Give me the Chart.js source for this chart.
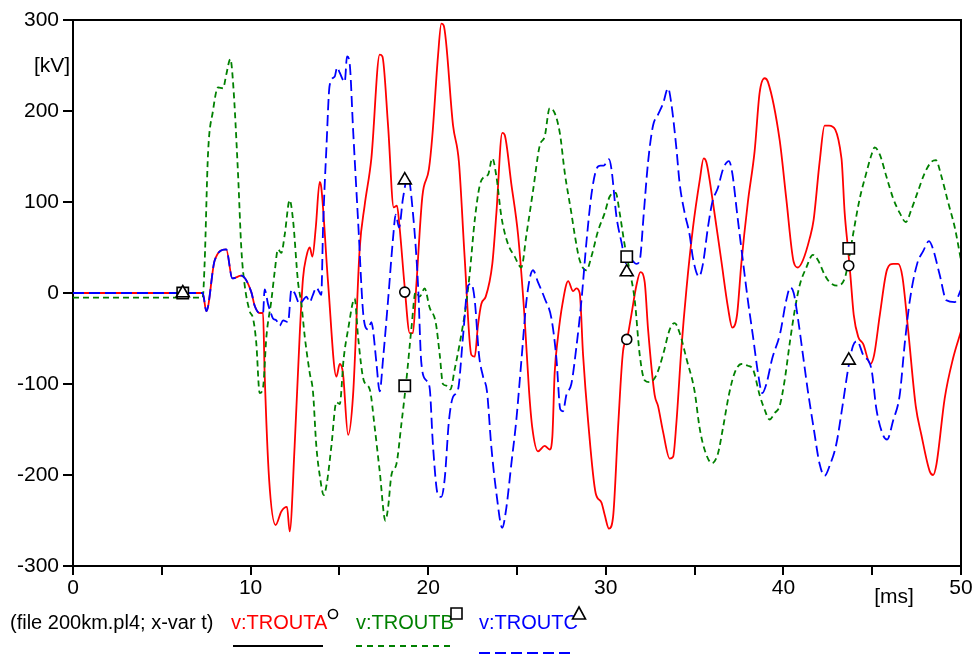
<!DOCTYPE html>
<html>
<head>
<meta charset="utf-8">
<script src="https://cdn.jsdelivr.net/npm/chart.js@4"></script>
<style>
  html,body{margin:0;padding:0;background:#fff;}
  #wrap{position:relative;width:978px;height:655px;}
</style>
</head>
<body>
<div id="wrap"><canvas id="c"></canvas></div>
<script>
// [t ms, kV]
const TROUTA = [[0,0],[7.3,0],[7.51,-20],[7.98,36],[8.63,48],[8.97,16],[9.48,19],[10.04,1],[10.23,-14],[10.51,-22],[10.7,-22],
  [10.79,-88],[11.04,-204],[11.41,-255],[11.73,-240],[12.05,-235],[12.2,-262],[12.48,-168],[12.76,-48],[12.95,16],[13.14,40],
  [13.33,50],[13.48,40],[13.67,72],[13.89,122],[13.98,116],[14.36,12],[14.83,-92],[15.02,-78],[15.2,-88],[15.49,-156],[15.77,-112],
  [16.14,48],[16.42,96],[16.8,148],[17.27,262],[17.42,260],[17.74,184],[18.06,94],[18.24,96],[18.39,72],[18.67,8],[18.96,-44],
  [19.14,-44],[19.33,8],[19.67,106],[20.04,136],[20.23,172],[20.55,260],[20.74,296],[20.87,294],[21.4,184],[21.73,144],[22.05,40],
  [22.43,-68],[22.62,-70],[22.8,-36],[22.99,-12],[23.24,-4],[23.61,32],[23.84,88],[24.17,176],[24.3,174],[24.68,120],[25.06,64],
  [25.43,-28],[25.68,-108],[25.86,-148],[26.18,-174],[26.56,-168],[26.84,-172],[26.99,-158],[27.12,-88],[27.31,-48],[27.56,-12],
  [27.88,13],[28.16,2],[28.34,5],[28.53,0],[28.72,-68],[29.0,-140],[29.43,-220],[29.75,-230],[29.94,-244],[30.18,-259],[30.41,-246],
  [30.69,-148],[30.97,-64],[31.2,-50],[31.44,-24],[31.72,8],[31.95,23],[32.19,12],[32.38,-40],[32.75,-112],[32.94,-124],[33.22,-152],
  [33.6,-182],[33.79,-180],[33.97,-144],[34.26,-60],[34.54,4],[34.91,72],[35.29,124],[35.51,148],[35.66,144],[36.03,100],[36.5,36],
  [36.88,-16],[37.12,-38],[37.39,-24],[37.63,32],[38.0,100],[38.38,156],[38.66,220],[38.94,236],[39.13,232],[39.79,168],[40.16,104],
  [40.58,34],[40.82,28],[41.1,36],[41.48,60],[41.7,80],[42.04,144],[42.32,184],[42.57,184],[43.27,148],[43.45,88],[43.64,48],
  [43.77,20],[43.96,-24],[44.21,-48],[44.49,-56],[44.9,-78],[45.11,-68],[45.43,-24],[45.84,26],[46.18,32],[46.46,32],[46.7,18],
  [47.02,-40],[47.45,-124],[47.77,-156],[48.24,-196],[48.43,-200],[48.62,-188],[49.08,-116],[49.55,-72],[50,-42]];

const TROUTB = [[0,-5],[7.3,-5],[7.41,32],[7.6,152],[7.88,200],[8.17,226],[8.45,225],[8.63,240],[8.86,257],[9.01,232],[9.29,132],
  [9.48,48],[9.67,8],[9.95,-20],[10.14,-28],[10.32,-55],[10.51,-110],[10.7,-104],[10.89,-48],[11.17,-8],[11.36,24],[11.54,48],
  [11.73,44],[11.92,64],[12.2,102],[12.39,80],[12.67,12],[12.86,-12],[13.05,-48],[13.33,-88],[13.51,-108],[13.7,-168],[13.89,-200],
  [14.12,-222],[14.3,-208],[14.55,-168],[14.83,-120],[15.02,-122],[15.24,-72],[15.49,-40],[15.86,-6],[16.05,-48],[16.37,-96],
  [16.71,-106],[16.99,-148],[17.27,-196],[17.59,-250],[17.74,-236],[17.93,-200],[18.21,-188],[18.49,-144],[18.77,-96],[19.05,-40],
  [19.29,1],[19.52,-4],[19.8,5],[20.08,-16],[20.42,-32],[20.65,-68],[20.83,-100],[21.06,-102],[21.25,-106],[21.49,-84],[21.77,-56],
  [22.11,-16],[22.33,20],[22.62,80],[22.9,118],[23.18,128],[23.37,130],[23.61,148],[23.84,128],[24.12,84],[24.49,54],[24.87,40],
  [25.24,28],[25.53,64],[25.9,112],[26.28,162],[26.56,172],[26.84,203],[26.99,202],[27.41,176],[27.69,132],[28.06,88],[28.25,64],
  [28.53,36],[28.91,25],[29.19,40],[29.56,68],[29.94,88],[30.22,106],[30.56,110],[30.78,88],[31.07,52],[31.35,24],[31.63,-8],
  [31.91,-68],[32.19,-96],[32.47,-98],[32.85,-90],[33.22,-68],[33.6,-40],[33.88,-33],[34.16,-44],[34.54,-72],[35.0,-108],
  [35.28,-148],[35.56,-172],[35.98,-187],[36.32,-176],[36.6,-148],[36.93,-112],[37.25,-88],[37.63,-78],[38.0,-80],[38.29,-84],
  [38.66,-112],[38.94,-128],[39.22,-139],[39.51,-132],[39.79,-124],[40.07,-96],[40.35,-56],[40.63,-20],[40.91,8],[41.29,28],
  [41.66,42],[41.95,36],[42.32,20],[42.6,12],[43.07,8],[43.45,16],[43.64,32],[43.92,64],[44.3,104],[44.67,132],[44.96,152],
  [45.14,160],[45.43,152],[45.8,128],[46.18,104],[46.55,88],[46.89,78],[47.21,92],[47.58,112],[47.96,132],[48.33,144],[48.58,146],
  [48.9,128],[49.27,100],[49.65,72],[50,36]];

const TROUTC = [[0,0],[7.3,0],[7.51,-20],[7.98,36],[8.63,48],[8.97,16],[9.48,19],[10.04,1],[10.23,-14],[10.51,-22],[10.7,-22],
  [10.79,4],[10.98,-12],[11.11,-20],[11.26,-28],[11.45,-30],[11.64,-36],[11.83,-30],[12.11,-32],[12.3,4],[12.48,0],[12.76,-12],
  [12.95,-8],[13.14,-4],[13.33,-10],[13.51,-2],[13.7,6],[13.98,-2],[14.08,72],[14.27,160],[14.45,228],[14.74,238],[14.87,248],
  [15.02,242],[15.3,232],[15.43,260],[15.58,252],[15.77,180],[16.05,80],[16.37,-28],[16.61,-40],[16.8,-32],[16.89,-40],[17.08,-76],
  [17.27,-108],[17.46,-72],[17.74,-8],[18.02,60],[18.17,86],[18.36,72],[18.58,104],[18.86,128],[19.14,88],[19.43,8],[19.61,-76],
  [19.89,-96],[20.08,-104],[20.27,-168],[20.55,-222],[20.74,-224],[20.93,-204],[21.17,-140],[21.4,-114],[21.68,-106],[21.96,-48],
  [22.24,8],[22.43,10],[22.62,-8],[22.86,-68],[23.09,-92],[23.31,-108],[23.55,-168],[23.84,-220],[24.17,-258],[24.4,-236],
  [24.68,-188],[24.96,-140],[25.24,-76],[25.56,-4],[25.9,25],[26.18,12],[26.56,-6],[26.94,-28],[27.22,-72],[27.44,-128],[27.59,-130],
  [27.78,-112],[28.06,-100],[28.34,-60],[28.63,-8],[28.91,56],[29.19,108],[29.47,136],[29.7,140],[29.88,140],[30.18,147],[30.32,136],
  [30.6,84],[30.88,56],[31.16,32],[31.44,36],[31.72,32],[31.91,36],[32.14,88],[32.38,144],[32.66,184],[32.94,196],[33.22,208],
  [33.51,225],[33.69,208],[33.97,160],[34.16,120],[34.44,88],[34.72,64],[34.91,38],[35.25,18],[35.47,32],[35.75,72],[36.0,100],
  [36.32,116],[36.6,136],[36.93,145],[37.12,132],[37.39,88],[37.69,40],[38.0,-8],[38.29,-48],[38.57,-88],[38.81,-110],[39.04,-100],
  [39.37,-72],[39.82,-44],[40.16,-8],[40.39,6],[40.58,0],[40.82,-28],[41.1,-68],[41.38,-108],[41.7,-148],[42.04,-188],[42.32,-201],
  [42.6,-190],[42.98,-166],[43.36,-120],[43.64,-84],[43.92,-58],[44.15,-53],[44.49,-68],[44.96,-84],[45.24,-128],[45.61,-156],
  [45.84,-161],[46.18,-140],[46.55,-112],[46.83,-56],[47.12,-8],[47.53,32],[47.87,46],[48.2,57],[48.43,48],[48.8,20],[49.18,-8],
  [49.65,-10],[50,4]];

// marker positions (every 12.5 ms)
const markT = [6.18, 18.68, 31.18, 43.68];
const markA = [0, 1, -51, 30];
const markB = [0, -102, 40, 49];
const markC = [0, 124, 23, -74];

const xTicks = [0, 10, 20, 30, 40, 50];

const FONT = 'Liberation Sans, Arial, sans-serif';
const pts = arr => arr.map(p => ({x:p[0], y:p[1]}));
const mpts = vals => markT.map((t,i) => ({x:t, y:vals[i]}));

const lineDs = (label, data, color, dash, order) => ({
  label, data: pts(data), borderColor: color, borderWidth: 1.8, borderDash: dash,
  pointRadius: 0, fill: false, cubicInterpolationMode: 'monotone', order
});
// lower order is drawn on top: triangle > square > circle
const markDs = (data, style, r, order) => ({
  type: 'scatter', data: mpts(data), pointStyle: style, pointRadius: r,
  pointBorderColor: '#000', pointBackgroundColor: '#fff', pointBorderWidth: 1.6, showLine: false, order
});

// frame, axis titles and legend
const decor = {
  id: 'decor',
  afterDraw(chart){
    const ctx = chart.ctx, a = chart.chartArea;
    ctx.save();
    ctx.strokeStyle = '#000'; ctx.lineWidth = 2;
    ctx.beginPath(); ctx.moveTo(a.left, a.top); ctx.lineTo(a.right, a.top); ctx.lineTo(a.right, a.bottom); ctx.stroke();

    ctx.fillStyle = '#000'; ctx.font = '21px ' + FONT; ctx.textBaseline = 'middle'; ctx.textAlign = 'center';
    ctx.fillText('[kV]', 52, 66);
    ctx.fillText('[ms]', 894, 597);

    ctx.font = '20px ' + FONT; ctx.textAlign = 'left';
    ctx.fillText('(file 200km.pl4; x-var t)', 10, 623);
    const leg = [['v:TROUTA','#ff0000',231],['v:TROUTB','#008000',356],['v:TROUTC','#0000ff',479]];
    leg.forEach(([t,c,x]) => { ctx.fillStyle = c; ctx.fillText(t, x, 623); });

    // legend symbols
    ctx.strokeStyle = '#000'; ctx.lineWidth = 1.6; ctx.fillStyle = '#fff';
    ctx.beginPath(); ctx.arc(333, 614, 4.5, 0, Math.PI*2); ctx.fill(); ctx.stroke();
    ctx.beginPath(); ctx.rect(451, 608, 11, 11); ctx.fill(); ctx.stroke();
    ctx.beginPath(); ctx.moveTo(579, 607); ctx.lineTo(585.5, 619); ctx.lineTo(572.5, 619); ctx.closePath(); ctx.fill(); ctx.stroke();

    // legend line samples
    ctx.lineWidth = 2;
    ctx.strokeStyle = '#000'; ctx.setLineDash([]);
    ctx.beginPath(); ctx.moveTo(233, 646); ctx.lineTo(323, 646); ctx.stroke();
    ctx.strokeStyle = '#008000'; ctx.setLineDash([6,5]);
    ctx.beginPath(); ctx.moveTo(356, 646); ctx.lineTo(450, 646); ctx.stroke();
    ctx.strokeStyle = '#0000ff'; ctx.setLineDash([11,5]);
    ctx.beginPath(); ctx.moveTo(479, 653); ctx.lineTo(575, 653); ctx.stroke();
    ctx.restore();
  }
};

new Chart(document.getElementById('c'), {
  type: 'line',
  data: {
    datasets: [
      markDs(markA, 'circle', 5, -1),
      markDs(markB, 'rect', 8, -2),
      markDs(markC, 'triangle', 7.5, -3),
      lineDs('v:TROUTC', TROUTC, '#0000ff', [11,5], 1),
      lineDs('v:TROUTB', TROUTB, '#008000', [6,4], 2),
      lineDs('v:TROUTA', TROUTA, '#ff0000', [], 3)
    ]
  },
  options: {
    responsive: true, maintainAspectRatio: false, animation: false,
    layout: { padding: { left: 0, top: 20, right: 17, bottom: 0 } },
    plugins: { legend: { display: false }, tooltip: { enabled: false } },
    scales: {
      x: {
        type: 'linear', min: 0, max: 50,
        afterFit: s => { s.height = 89; },
        ticks: { stepSize: 5, color: '#000', font: { family: FONT, size: 21 }, padding: 1, maxRotation: 0,
          callback: v => xTicks.includes(v) ? String(v) : '' },
        grid: { drawOnChartArea: false, drawTicks: true, tickLength: 9, color: '#000', lineWidth: 2 },
        border: { display: true, color: '#000', width: 2 }
      },
      y: {
        min: -300, max: 300,
        afterFit: s => { s.width = 73; },
        ticks: { stepSize: 100, color: '#000', font: { family: FONT, size: 21 }, padding: 4 },
        grid: { drawOnChartArea: false, drawTicks: true, tickLength: 10, color: '#000', lineWidth: 2 },
        border: { display: true, color: '#000', width: 2 }
      }
    }
  },
  plugins: [decor]
});
</script>
</body>
</html>
